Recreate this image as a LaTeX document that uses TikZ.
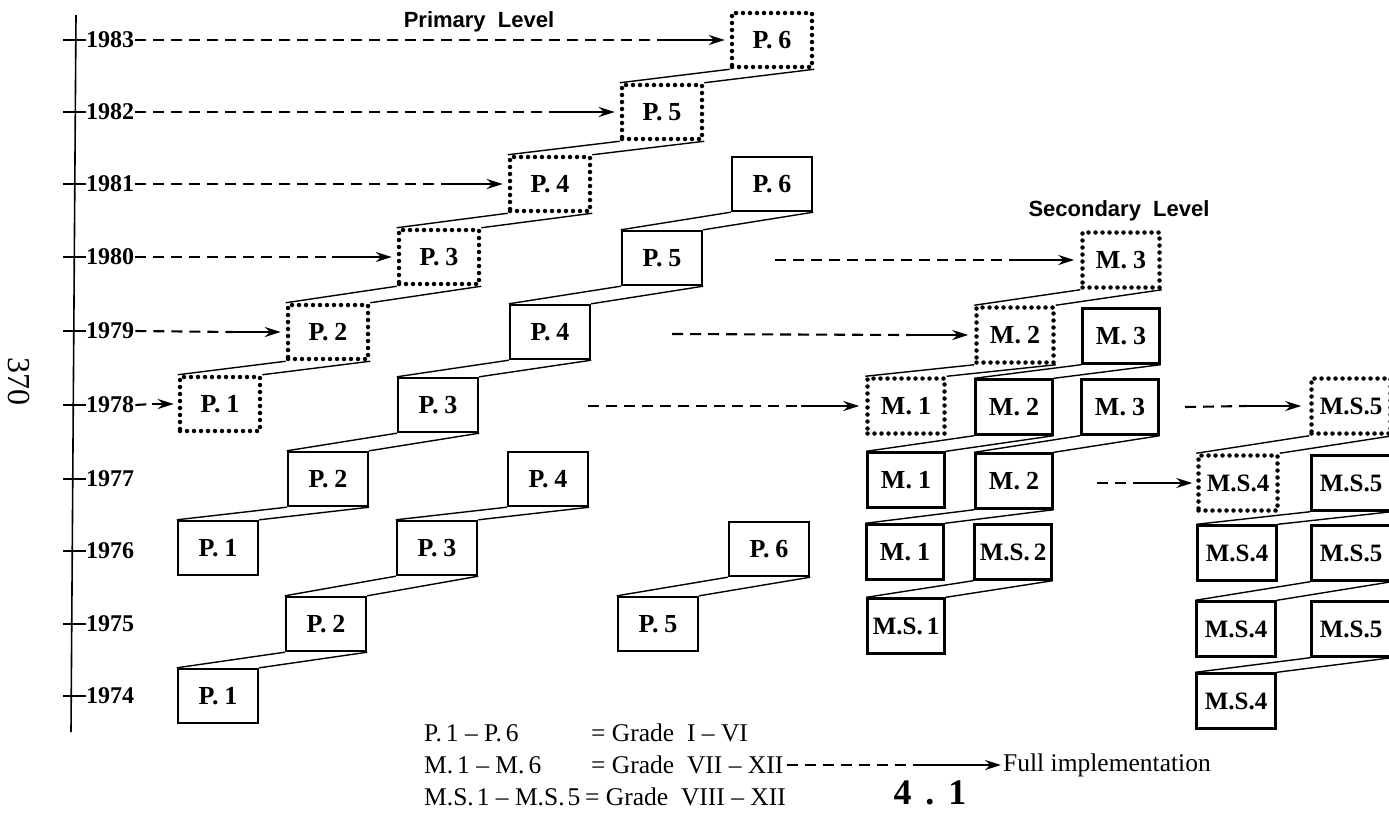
\documentclass[tikz,border=0pt]{standalone}
\usepackage{fontspec}
\setmainfont{Liberation Serif}
\newfontfamily\headfont{Liberation Sans}
\usetikzlibrary{arrows.meta,calc}
\newcommand\stairs[2]{\draw[stair] (#1.north west) -- (#2.south west) (#1.north east) -- (#2.south east);}
\newcommand\darrow[3]{\draw[dline] (#1) -- ($(#2)+(-#3,0)$); \draw[sline] ($(#2)+(-#3,0)$) -- (#2);}
\newcommand\lbl[2]{#1.\kern6pt#2}
\begin{document}
\begin{tikzpicture}[x=1pt,y=-1pt,
  box/.style={draw,line width=2.4pt,minimum width=80pt,minimum height=54pt,inner sep=0pt,font=\bfseries\fontsize{26}{26}\selectfont},
  dbox/.style={box,line width=4.5pt,dash pattern=on 0pt off 7pt,line cap=round},
  mbox/.style={box,minimum width=77pt,minimum height=55pt},
  mdbox/.style={dbox,minimum width=77pt,minimum height=55pt},
  sbox/.style={mbox,minimum width=79pt,font=\bfseries\fontsize{25}{25}\selectfont},
  sdbox/.style={mdbox,minimum width=79pt,font=\bfseries\fontsize{25}{25}\selectfont},
  stair/.style={line width=1.4pt},
  dline/.style={line width=2.1pt,dash pattern=on 11pt off 7pt},
  sline/.style={line width=2.1pt,-{Stealth[length=16pt,width=10pt]}},
  year/.style={anchor=west,inner sep=1pt,font=\bfseries\fontsize{24}{24}\selectfont},
  tick/.style={line width=1.6pt},
  head/.style={font=\headfont\bfseries\fontsize{22}{22}\selectfont},
  leg/.style={anchor=west,inner sep=0pt,font=\fontsize{25.5}{25.5}\selectfont}
]
\useasboundingbox (0,0) rectangle (1389,812);
% axis
\coordinate (axt) at (76,15);
\coordinate (axb) at (71,732);
\draw[line width=1.6pt] (axt) -- (axb);
\foreach \yr/\yy in {1983/40,1982/112,1981/184,1980/257,1979/331,1978/405,1977/479,1976/551,1975/624,1974/696}{
  \draw[tick] (63,\yy) -- (86,\yy);
  \node[year] (y\yr) at (85,\yy) {\yr};
}
\node[rotate=-90,font=\fontsize{32}{32}\selectfont] (pg) at (19,381) {370};
% headings
\node[head] (hp) at (479,22) {Primary\ \ Level};
\node[head] (hs) at (1119,211) {Secondary\ \ Level};
% primary solid
\node[box] (p1a) at (218,696) {\lbl P1};
\node[box] (p2a) at (326,624) {\lbl P2};
\node[box] (p3a) at (437,548) {\lbl P3};
\node[box] (p4a) at (548,479) {\lbl P4};
\node[box] (p5a) at (658,624) {\lbl P5};
\node[box] (p6a) at (769,549) {\lbl P6};
\node[box] (p1b) at (218,548) {\lbl P1};
\node[box] (p2b) at (328,479) {\lbl P2};
\node[box] (p3b) at (438,405) {\lbl P3};
\node[box] (p4b) at (550,332) {\lbl P4};
\node[box] (p5b) at (662,258) {\lbl P5};
\node[box] (p6b) at (772,184) {\lbl P6};
% primary dotted
\node[dbox] (p1c) at (220,404) {\lbl P1};
\node[dbox] (p2c) at (328,332) {\lbl P2};
\node[dbox] (p3c) at (439,257) {\lbl P3};
\node[dbox] (p4c) at (550,184) {\lbl P4};
\node[dbox] (p5c) at (662,112) {\lbl P5};
\node[dbox] (p6c) at (772,40) {\lbl P6};
\stairs{p1a}{p2a}\stairs{p2a}{p3a}\stairs{p3a}{p4a}
\stairs{p5a}{p6a}
\stairs{p1b}{p2b}\stairs{p2b}{p3b}\stairs{p3b}{p4b}\stairs{p4b}{p5b}\stairs{p5b}{p6b}
\stairs{p1c}{p2c}\stairs{p2c}{p3c}\stairs{p3c}{p4c}\stairs{p4c}{p5c}\stairs{p5c}{p6c}
% secondary
\node[mdbox] (m1d) at (906,406) {\lbl M1};
\node[mdbox] (m2d) at (1015,335) {\lbl M2};
\node[mdbox] (m3d) at (1121,260) {\lbl M3};
\node[mbox] (m1a) at (906,480) {\lbl M1};
\node[mbox] (m2a) at (1014,407) {\lbl M2};
\node[mbox] (m3a) at (1121,336) {\lbl M3};
\node[mbox] (m1b) at (905,552) {\lbl M1};
\node[mbox] (m2b) at (1014,481) {\lbl M2};
\node[mbox] (m3b) at (1120,407) {\lbl M3};
\node[sbox,minimum width=77pt] (ms1) at (906,626) {M.S.\kern4pt1};
\node[sbox,minimum width=77pt] (ms2) at (1013,552) {M.S.\kern4pt2};
\stairs{m1d}{m2d}\stairs{m2d}{m3d}
\stairs{m1a}{m2a}\stairs{m2a}{m3a}
\stairs{m1b}{m2b}\stairs{m2b}{m3b}
\stairs{ms1}{ms2}
% right block
\node[sdbox] (s4d) at (1238,483) {M.S.4};
\node[sdbox] (s5d) at (1351,406) {M.S.5};
\node[sbox] (s5a) at (1351,483) {M.S.5};
\node[sbox] (s4a) at (1237,553) {M.S.4};
\node[sbox] (s5b) at (1351,553) {M.S.5};
\node[sbox] (s4b) at (1236,629) {M.S.4};
\node[sbox] (s5c) at (1351,629) {M.S.5};
\node[sbox] (s4c) at (1236,701) {M.S.4};
\stairs{s4d}{s5d}\stairs{s4a}{s5a}\stairs{s4b}{s5b}\stairs{s4c}{s5c}
% arrow end points
\coordinate (e83) at ([xshift=-5pt]p6c.west);
\coordinate (e82) at ([xshift=-5pt]p5c.west);
\coordinate (e81) at ([xshift=-5pt]p4c.west);
\coordinate (e80) at ([xshift=-5pt]p3c.west);
\coordinate (e79) at ([xshift=-5pt]p2c.west);
\coordinate (e78) at ([xshift=-4pt]p1c.west);
\darrow{y1983.east}{e83}{62}
\darrow{y1982.east}{e82}{62}
\darrow{y1981.east}{e81}{62}
\darrow{y1980.east}{e80}{60}
\darrow{y1979.east}{e79}{48}
\darrow{y1978.east}{e78}{22}
\coordinate (s80) at (775,260);
\coordinate (s79) at (672,334);
\coordinate (s78) at (588,406);
\coordinate (r78) at (1185,407);
\coordinate (r77) at (1097,483);
\coordinate (em3) at ([xshift=-6pt]m3d.west);
\coordinate (em2) at ([xshift=-6pt]m2d.west);
\coordinate (em1) at ([xshift=-6pt]m1d.west);
\coordinate (es5) at ([xshift=-8pt]s5d.west);
\coordinate (es4) at ([xshift=-4pt]s4d.west);
\darrow{s80}{em3}{58}
\darrow{s79}{em2}{58}
\darrow{s78}{em1}{58}
\darrow{r78}{es5}{55}
\darrow{r77}{es4}{55}
% legend
\node[leg] (l1a) at (424,733) {P.\kern4pt1 -- P.\kern4pt6};
\node[leg] (l2a) at (424,765) {M.\kern4pt1 -- M.\kern4pt6};
\node[leg] (l3a) at (424,797) {M.S.\kern3pt1 -- M.S.\kern3pt5};
\node[leg] (l1b) at (591,733) {=\ Grade\ \ I -- VI};
\node[leg] (l2b) at (591,765) {=\ Grade\ \ VII -- XII};
\node[leg] (l3b) at (585,797) {=\ Grade\ \ VIII -- XII};
\node[leg] (fi) at (1003,765) {Full implementation};
\coordinate (efi) at ([xshift=-2pt]fi.west);
\draw[dline] ([xshift=3pt]l2b.east) -- ($(efi)+(-78,0)$);
\draw[sline] ($(efi)+(-78,0)$) -- (efi);
\node[font=\bfseries\fontsize{36}{36}\selectfont] (pn) at (930,793) {4\kern14pt.\kern14pt1};
\end{tikzpicture}
\end{document}
